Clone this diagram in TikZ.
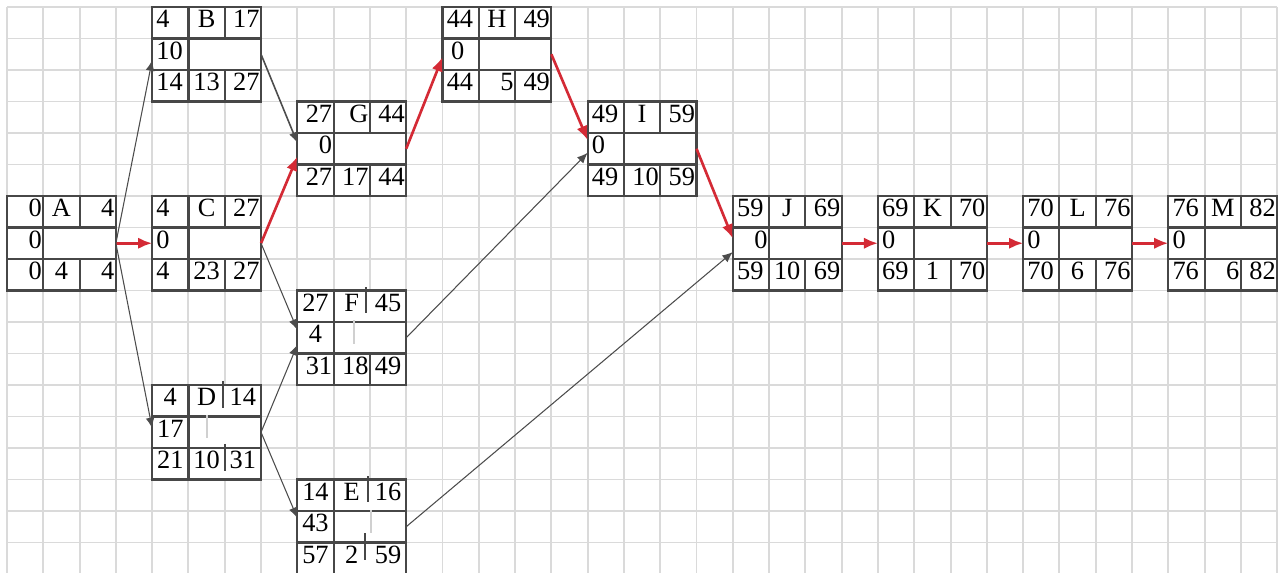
\documentclass[tikz,border=0pt]{standalone}
\usepackage{fontspec}
\setmainfont{Liberation Serif}
\usetikzlibrary{arrows.meta}
\definecolor{GridGray}{HTML}{DADADA}
\definecolor{BoxLine}{HTML}{474747}
\definecolor{GlitchGray}{HTML}{D0D0D0}
\definecolor{CritRed}{HTML}{D42A35}
\definecolor{PlainArrow}{HTML}{4C4C4C}

\tikzset{
  gridline/.style={draw=GridGray, line width=1.1pt},
  boxline/.style={draw=BoxLine, line width=1.2pt},
  topsplit/.style={boxline},
  botsplit/.style={boxline},
  glitch/.style={draw=GlitchGray, line width=1.2pt},
  cell/.style={text width=19pt, inner xsep=0pt, inner ysep=0pt, align=center,
    anchor=base, font=\fontsize{15}{16}\selectfont},
  critical/.style={draw=CritRed, line width=1.5pt, -{Latex[length=8pt,width=6.5pt]}},
  plain/.style={draw=PlainArrow, line width=0.6pt, -{Latex[length=6pt,width=5pt]}},
}

% cell text flushed to one side
\newcommand{\atleft}[1]{\hspace*{1.6pt}#1\hfill\mbox{}}
\newcommand{\atright}[1]{\mbox{}\hfill#1}

% activity box: name, top-left grid position, ES, label, EF, float, LS, duration, LF
\newcommand{\actbox}[9]{%
  \node[boxline, fill=white, anchor=north west, minimum width=2.1774cm,
    minimum height=1.89cm, inner sep=0pt, outer sep=0pt] (#1) at (#2) {};
  \begin{scope}[shift={(#2)}]
    \draw[boxline] (0,1) -- (3,1) (0,2) -- (3,2) (1,0) -- (1,3);
    \draw[topsplit] (2,0) -- (2,1);
    \draw[botsplit] (2,2) -- (2,3);
    \node[cell] at (0.5,0.66) {#3};
    \node[cell] at (1.5,0.66) {#4};
    \node[cell] at (2.5,0.66) {#5};
    \node[cell] at (0.5,1.66) {#6};
    \node[cell] at (0.5,2.66) {#7};
    \node[cell] at (1.5,2.66) {#8};
    \node[cell] at (2.5,2.66) {#9};
  \end{scope}}

\begin{document}
\begin{tikzpicture}[x=0.7258cm, y=-0.63cm]
  \useasboundingbox[fill=white] (-0.193,-0.222) rectangle (35.244,17.937);

  % squared paper
  \foreach \i in {0,...,35}
    \draw[gridline] (\i,0) -- (\i,18);
  \foreach \j in {0,...,18}
    \draw[gridline] (0,\j) -- (35,\j);

  % activities
  \actbox{A}{0,6}{\atright0}{A}{\atright4}{\atright0}{\atright0}{4}{\atright4}
  \actbox{B}{4,0}{\atleft4}{B}{\atright{17}}{\atleft{10}}{\atleft{14}}{13}{\atright{27}}
  \actbox{C}{4,6}{\atleft4}{C}{\atright{27}}{\atleft0}{\atleft4}{23}{\atright{27}}
  \begin{scope}[topsplit/.style={draw=none}, botsplit/.style={draw=none}]
    \actbox{D}{4,12}{4}{D}{14}{17}{21}{10}{31}
    \actbox{E}{8,15}{14}{E}{16}{43}{57}{2}{59}
  \end{scope}
  \begin{scope}[topsplit/.style={draw=none}]
    \actbox{F}{8,9}{27}{F}{45}{4}{\atright{31}}{\atright{18}}{49}
  \end{scope}
  \actbox{G}{8,3}{\atright{27}}{\atright{G}}{\atright{44}}{\atright0}{\atright{27}}{\atright{17}}{\atright{44}}
  \actbox{H}{12,0}{\atleft{44}}{H}{\atright{49}}{\atleft{\,0}}{\atleft{44}}{\atright5}{\atright{49}}
  \actbox{I}{16,3}{\atleft{49}}{I}{\atright{59}}{\atleft0}{\atleft{49}}{\atright{10}}{\atright{59}}
  \actbox{J}{20,6}{\atleft{59}}{J}{\atright{69}}{\atright0}{\atleft{59}}{10}{\atright{69}}
  \actbox{K}{24,6}{\atleft{69}}{K}{\atright{70}}{\atleft0}{\atleft{69}}{1}{\atright{70}}
  \actbox{L}{28,6}{\atleft{70}}{L}{\atright{76}}{\atleft0}{\atleft{70}}{6}{\atright{76}}
  \actbox{M}{32,6}{\atleft{76}}{M}{\atright{82}}{\atleft0}{\atleft{76}}{\atright6}{\atright{82}}

  % broken dividers in D, E, F
  \begin{scope}[shift={(4,12)}]
    \draw[boxline] (1.95,-0.13) -- (1.95,0.73) (2.01,1.87) -- (2.01,2.73);
    \draw[glitch] (1.52,0.95) -- (1.52,1.68);
  \end{scope}
  \begin{scope}[shift={(8,9)}]
    \draw[boxline] (1.89,-0.11) -- (1.89,0.71);
    \draw[glitch] (1.56,0.94) -- (1.56,1.70);
  \end{scope}
  \begin{scope}[shift={(8,15)}]
    \draw[boxline] (1.95,-0.11) -- (1.95,0.71) (1.87,1.70) -- (1.87,2.56);
    \draw[glitch] (2.03,0.97) -- (2.03,1.70);
  \end{scope}

  % links
  \draw[critical] (A.east) -- (C.west);
  \draw[plain] (A.east) -- ([yshift=-3.4pt]B.west);
  \draw[plain] (A.east) -- ([yshift=2.3pt]D.west);
  \draw[plain, line width=0.9pt] (B.east) -- ([yshift=3.4pt]G.west);
  \draw[critical] (C.east) -- ([yshift=-4.5pt]G.west);
  \draw[plain] (C.east) -- ([yshift=4.5pt]F.west);
  \draw[plain] (D.east) -- ([yshift=-4pt]F.west);
  \draw[plain] (D.east) -- ([yshift=5pt]E.west);
  \draw[critical] (G.east) -- ([yshift=-1.7pt]H.west);
  \draw[critical] (H.east) -- ([yshift=5pt]I.west);
  \draw[plain] (F.east) -- ([yshift=-2.3pt]I.west);
  \draw[critical] (I.east) -- ([yshift=2.8pt]J.west);
  \draw[plain] (E.east) -- ([yshift=-5pt]J.west);
  \draw[critical] (J.east) -- (K.west);
  \draw[critical] (K.east) -- (L.west);
  \draw[critical] (L.east) -- (M.west);
\end{tikzpicture}
\end{document}
